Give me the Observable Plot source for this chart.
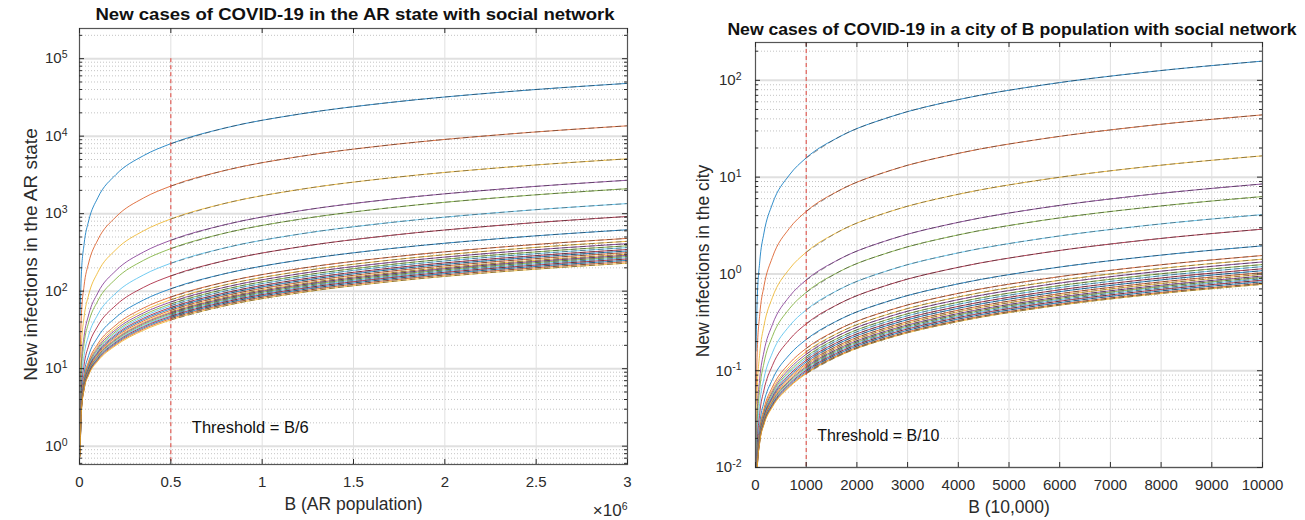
<!DOCTYPE html>
<html><head><meta charset="utf-8">
<script src="https://cdn.jsdelivr.net/npm/d3@7"></script>
<script src="https://cdn.jsdelivr.net/npm/@observablehq/plot@0.6"></script>
<style>
body{margin:0;background:#fff;font-family:"Liberation Sans",Arial,sans-serif;}
#wrap{position:relative;width:1305px;height:520px;overflow:hidden;background:#fff}
.title{position:absolute;font-weight:bold;font-size:16px;color:#111;white-space:nowrap}
.panel{position:absolute;top:0}
</style></head><body>
<div id="wrap">
 <div id="left" class="panel" style="left:0"></div>
 <div id="right" class="panel" style="left:660px"></div>
 <div class="title" style="left:355px;top:15px;transform:translate(-50%,-50%) scaleX(1.16)">New cases of COVID-19 in the AR state with social network</div>
 <div class="title" style="left:1012px;top:30px;transform:translate(-50%,-50%) scaleX(1.1)">New cases of COVID-19 in a city of B population with social network</div>
</div>
<script>
// ---------- data ----------
const leftB = [3e3, 1e4, 2.5e4, 5e4, 1e5, 2e5, 3.5e5, 5e5, 8e5, 1.2e6, 1.7e6, 2.3e6, 3e6];
const leftCurves = [
  [48.5, 162, 404, 805, 1600, 3200, 5600, 8000, 12800, 19200, 27200, 36800, 48000],
  [14.1, 47.3, 117, 231, 458, 911, 1591, 2271, 3630, 5443, 7709, 10428, 13600],
  [5.6, 19.0, 46.0, 89.4, 174.8, 344.7, 599.4, 854.2, 1363.7, 2043, 2892, 3911, 5100],
  [3.2, 11.0, 26.0, 49.4, 94.8, 184.7, 319.4, 454.2, 723.7, 1083, 1532, 2071, 2700],
  [2.6, 9.0, 21.0, 39.4, 74.8, 144.7, 249.4, 354.2, 563.7, 843, 1192, 1611, 2100],
  [1.85, 6.5, 14.7, 26.9, 49.8, 94.7, 161.9, 229.2, 363.7, 543, 767, 1036, 1350],
  [1.4, 5.05, 11.1, 19.75, 35.5, 66, 111.75, 157.5, 249, 371, 523.5, 706.5, 920],
  [1.1, 4.05, 8.6, 14.75, 25.5, 46, 76.75, 107.5, 169, 251, 353.5, 476.5, 620],
  [0.98, 3.58, 7.46, 12.42, 20.83, 36.67, 60.42, 84.17, 131.67, 195, 274.17, 369.17, 480],
  [0.94, 3.45, 7.13, 11.75, 19.5, 34, 55.75, 77.5, 121, 179, 251.5, 338.5, 440],
  [0.91, 3.35, 6.88, 11.25, 18.5, 32, 52.25, 72.5, 113, 167, 234.5, 315.5, 410],
  [0.88, 3.27, 6.67, 10.83, 17.67, 30.33, 49.33, 68.33, 106.33, 157, 220.33, 296.33, 385],
  [0.86, 3.2, 6.5, 10.5, 17, 29, 47, 65, 101, 149, 209, 281, 365],
  [0.84, 3.13, 6.33, 10.17, 16.33, 27.67, 44.67, 61.67, 95.67, 141, 197.67, 265.67, 345],
  [0.83, 3.08, 6.21, 9.92, 15.83, 26.67, 42.92, 59.17, 91.67, 135, 189.17, 254.17, 330],
  [0.81, 3.03, 6.08, 9.67, 15.33, 25.67, 41.17, 56.67, 87.67, 129, 180.67, 242.67, 315],
  [0.8, 2.98, 5.96, 9.42, 14.83, 24.67, 39.42, 54.17, 83.67, 123, 172.17, 231.17, 300],
  [0.79, 2.95, 5.88, 9.25, 14.5, 24, 38.25, 52.5, 81, 119, 166.5, 223.5, 290],
  [0.78, 2.92, 5.79, 9.08, 14.17, 23.33, 37.08, 50.83, 78.33, 115, 160.83, 215.83, 280],
  [0.77, 2.88, 5.71, 8.92, 13.83, 22.67, 35.92, 49.17, 75.67, 111, 155.17, 208.17, 270],
  [0.76, 2.85, 5.63, 8.75, 13.5, 22, 34.75, 47.5, 73, 107, 149.5, 200.5, 260],
  [0.75, 2.82, 5.54, 8.58, 13.17, 21.33, 33.58, 45.83, 70.33, 103, 143.83, 192.83, 250],
  [0.74, 2.78, 5.46, 8.42, 12.83, 20.67, 32.42, 44.17, 67.67, 99, 138.17, 185.17, 240],
  [0.73, 2.75, 5.38, 8.25, 12.5, 20, 31.25, 42.5, 65, 95, 132.5, 177.5, 230]
];
const rightB = [10, 33, 83, 167, 333, 667, 1000, 1667, 2667, 4000, 5667, 7667, 10000];
const rightCurves = [
  [0.16, 0.53, 1.33, 2.65, 5.28, 10.5, 15.8, 26.3, 42.1, 63.2, 89.5, 121, 158],
  [0.0457, 0.153, 0.378, 0.748, 1.48, 2.95, 4.42, 7.35, 11.75, 17.6, 24.9, 33.7, 44],
  [0.0183, 0.062, 0.15, 0.2915, 0.569, 1.122, 1.675, 2.781, 4.439, 6.65, 9.414, 12.73, 16.6],
  [0.0102, 0.035, 0.0824, 0.157, 0.299, 0.582, 0.865, 1.43, 2.28, 3.41, 4.82, 6.52, 8.5],
  [0.008, 0.0277, 0.0641, 0.12, 0.226, 0.436, 0.645, 1.064, 1.69, 2.53, 3.58, 4.83, 6.3],
  [0.0058, 0.0204, 0.0458, 0.0831, 0.153, 0.289, 0.425, 0.697, 1.106, 1.65, 2.33, 3.15, 4.1],
  [0.0046, 0.0164, 0.0358, 0.0631, 0.113, 0.209, 0.305, 0.497, 0.786, 1.17, 1.65, 2.23, 2.9],
  [0.0037, 0.0132, 0.0279, 0.0473, 0.0811, 0.146, 0.21, 0.339, 0.532, 0.79, 1.112, 1.5, 1.95],
  [0.0033, 0.0119, 0.0245, 0.0406, 0.0678, 0.1189, 0.17, 0.2722, 0.4255, 0.63, 0.8855, 1.1922, 1.55],
  [0.0031, 0.0114, 0.0234, 0.0385, 0.0634, 0.1103, 0.157, 0.2506, 0.3909, 0.578, 0.8119, 1.0926, 1.42],
  [0.003, 0.0111, 0.0227, 0.037, 0.0604, 0.1043, 0.148, 0.2356, 0.3669, 0.542, 0.7609, 1.0236, 1.33],
  [0.003, 0.0109, 0.022, 0.0356, 0.0578, 0.0989, 0.14, 0.2222, 0.3455, 0.51, 0.7155, 0.9622, 1.25],
  [0.0029, 0.0107, 0.0215, 0.0346, 0.0558, 0.0949, 0.134, 0.2122, 0.3295, 0.486, 0.6815, 0.9162, 1.19],
  [0.0028, 0.0105, 0.021, 0.0336, 0.0538, 0.0909, 0.128, 0.2022, 0.3135, 0.462, 0.6475, 0.8702, 1.13],
  [0.0028, 0.0103, 0.0206, 0.0328, 0.0521, 0.0876, 0.123, 0.1939, 0.3002, 0.442, 0.6192, 0.8319, 1.08],
  [0.0027, 0.0101, 0.0202, 0.032, 0.0504, 0.0843, 0.118, 0.1856, 0.2869, 0.422, 0.5909, 0.7936, 1.03],
  [0.0027, 0.01, 0.0199, 0.0313, 0.0491, 0.0816, 0.114, 0.1789, 0.2762, 0.406, 0.5682, 0.7629, 0.99],
  [0.0027, 0.0099, 0.0195, 0.0306, 0.0478, 0.0789, 0.11, 0.1722, 0.2655, 0.39, 0.5455, 0.7322, 0.95],
  [0.0026, 0.0098, 0.0193, 0.0301, 0.0468, 0.0769, 0.107, 0.1672, 0.2575, 0.378, 0.5285, 0.7092, 0.92],
  [0.0026, 0.0097, 0.019, 0.0296, 0.0458, 0.0749, 0.104, 0.1622, 0.2495, 0.366, 0.5115, 0.6862, 0.89],
  [0.0026, 0.0096, 0.0188, 0.0291, 0.0448, 0.0729, 0.101, 0.1572, 0.2415, 0.354, 0.4945, 0.6632, 0.86],
  [0.0025, 0.0095, 0.0185, 0.0286, 0.0438, 0.0709, 0.098, 0.1522, 0.2335, 0.342, 0.4775, 0.6402, 0.83],
  [0.0025, 0.0094, 0.0183, 0.0281, 0.0428, 0.0689, 0.095, 0.1472, 0.2255, 0.33, 0.4605, 0.6172, 0.8],
  [0.0025, 0.0093, 0.0181, 0.0278, 0.0421, 0.0676, 0.093, 0.1439, 0.2202, 0.322, 0.4492, 0.6019, 0.78]
];
const leftXTicks = [0, 0.5e6, 1e6, 1.5e6, 2e6, 2.5e6, 3e6];
const leftXTickLabels = ["0", "0.5", "1", "1.5", "2", "2.5", "3"];
const rightXTicks = [0, 1000, 2000, 3000, 4000, 5000, 6000, 7000, 8000, 9000, 10000];
const rightXTickLabels = ["0", "1000", "2000", "3000", "4000", "5000", "6000", "7000", "8000", "9000", "10000"];
const leftYTicks = [1, 10, 100, 1e3, 1e4, 1e5];
const leftYTickLabels = ["10^0", "10^1", "10^2", "10^3", "10^4", "10^5"];
const rightYTicks = [0.01, 0.1, 1, 10, 100];
const rightYTickLabels = ["10^-2", "10^-1", "10^0", "10^1", "10^2"];
const leftThreshold = 5e5, leftThresholdLabel = "Threshold = B/6";
const rightThreshold = 1000, rightThresholdLabel = "Threshold = B/10";
const matlabColors = ["#0072BD", "#D95319", "#EDB120", "#7E2F8E", "#77AC30", "#4DBEEE", "#A2142F"];

function minorTicks(lo, hi) {
  const out = [];
  for (let e = Math.floor(Math.log10(lo)); e <= Math.ceil(Math.log10(hi)); e++)
    for (let m = 2; m <= 9; m++) { const v = m * Math.pow(10, e); if (v >= lo && v <= hi) out.push(v); }
  return out;
}

// turn "10^5" strings into a base + raised exponent
function superscripts(svg, expSize) {
  svg.querySelectorAll("text").forEach(t => {
    const s = t.textContent;
    if (!s.includes("^") || t.querySelector("tspan")) return;
    const [base, exp] = s.split("^");
    t.textContent = base;
    const ts = document.createElementNS("http://www.w3.org/2000/svg", "tspan");
    ts.setAttribute("dy", "-0.5em");
    ts.setAttribute("font-size", expSize);
    ts.textContent = exp;
    t.appendChild(ts);
  });
  return svg;
}

function panel(o) {
  const rows = o.curves.flatMap((ys, i) => ys.map((y, j) => ({B: o.B[j], y, s: i})));
  const dashRows = rows.filter(d => d.B >= o.threshold);
  const fw = o.width - o.ml - o.mr, fh = o.height - o.mt - o.mb;
  const xl = new Map(o.xTicks.map((t, i) => [t, o.xTickLabels[i]]));
  const yl = new Map(o.yTicks.map((t, i) => [t, o.yTickLabels[i]]));
  const ymin = minorTicks(o.yDomain[0], o.yDomain[1]);
  const ink = "#2b2b2b";
  const svg = Plot.plot({
    width: o.width, height: o.height,
    marginLeft: o.ml, marginRight: o.mr, marginTop: o.mt, marginBottom: o.mb,
    style: {fontFamily: "'Liberation Sans', Arial, sans-serif", background: "#fff"},
    x: {domain: o.xDomain, axis: null},
    y: {type: "log", domain: o.yDomain, axis: null},
    marks: [
      Plot.gridY(ymin, {y: d => d, stroke: "#8a8a8a", strokeOpacity: 0.5, strokeDasharray: "1,2"}),
      Plot.gridY(o.yTicks, {y: d => d, stroke: "#e0e0e0", strokeOpacity: 1, strokeWidth: 2}),
      Plot.gridX(o.xTicks, {x: d => d, stroke: "#e0e0e0", strokeOpacity: 1}),
      Plot.line(rows, {x: "B", y: "y", z: "s", stroke: d => matlabColors[d.s % 7], strokeWidth: 1, strokeOpacity: 0.8, curve: "monotone-x", clip: true}),
      Plot.line(dashRows, {x: "B", y: "y", z: "s", stroke: "#1a1a1a", strokeWidth: 1, strokeOpacity: 0.45, strokeDasharray: "5,4", curve: "monotone-x", clip: true}),
      Plot.ruleX([o.threshold], {x: d => d, y1: o.ruleTop, y2: o.yDomain[0], stroke: "#e0443c", strokeWidth: 1, strokeDasharray: "4,3"}),
      Plot.text([o.thresholdLabel], {x: o.threshold, frameAnchor: "bottom", text: d => d, textAnchor: "start", dx: o.thrDx, dy: o.thrDy, fontSize: o.thrSize, fill: "#111"}),
      Plot.frame({stroke: "#555", strokeWidth: 1.2}),
      Plot.tickX(o.xTicks, {x: d => d, insetTop: fh - 5, stroke: ink}),
      Plot.tickX(o.xTicks, {x: d => d, insetBottom: fh - 5, stroke: ink}),
      Plot.tickY(o.yTicks, {y: d => d, insetRight: fw - 5, stroke: ink}),
      Plot.tickY(o.yTicks, {y: d => d, insetLeft: fw - 5, stroke: ink}),
      Plot.tickY(ymin, {y: d => d, insetRight: fw - 3, stroke: ink}),
      Plot.tickY(ymin, {y: d => d, insetLeft: fw - 3, stroke: ink}),
      Plot.axisX(o.xTicks, {tickFormat: d => xl.get(d), label: null, tickSize: 0, tickPadding: 12, fontSize: 15, fill: ink}),
      Plot.axisY(o.yTicks, {tickFormat: d => yl.get(d), label: null, tickSize: 0, tickPadding: o.yPad, fontSize: 15, fill: ink}),
      Plot.text([o.xLabel], {frameAnchor: "bottom", text: d => d, textAnchor: "middle", dy: 45, fontSize: 17.5, fill: ink}),
      Plot.text([o.yLabel], {frameAnchor: "left", text: d => d, textAnchor: "middle", rotate: -90, dx: o.yLabelDx, dy: o.yLabelDy, fontSize: o.yLabelSize, fill: ink}),
      ...(o.extra || [])
    ]
  });
  return superscripts(svg, 10.5);
}

document.getElementById("left").appendChild(panel({
  B: leftB, curves: leftCurves, xDomain: [0, 3e6], yDomain: [0.58, 2.45e5],
  xTicks: leftXTicks, xTickLabels: leftXTickLabels, yTicks: leftYTicks, yTickLabels: leftYTickLabels,
  threshold: leftThreshold, thresholdLabel: leftThresholdLabel, ruleTop: 1e5, thrDx: 21, thrDy: -32, thrSize: 16.5,
  xLabel: "B (AR population)", yLabel: "New infections in the AR state", yLabelDx: -49, yLabelDy: 8, yLabelSize: 19, yPad: 12,
  width: 660, height: 520, ml: 79, mr: 33, mt: 28, mb: 56,
  extra: [Plot.text(["\u00D710^6"], {frameAnchor: "bottom-right", text: d => d, textAnchor: "end", dy: 51, fontSize: 17, fill: "#2b2b2b"})]
}));

document.getElementById("right").appendChild(panel({
  B: rightB, curves: rightCurves, xDomain: [0, 10000], yDomain: [0.01, 246],
  xTicks: rightXTicks, xTickLabels: rightXTickLabels, yTicks: rightYTicks, yTickLabels: rightYTickLabels,
  threshold: rightThreshold, thresholdLabel: rightThresholdLabel, ruleTop: 246, thrDx: 11, thrDy: -27, thrSize: 16,
  xLabel: "B (10,000)", yLabel: "New infections in the city", yLabelDx: -52, yLabelDy: 6, yLabelSize: 17.5, yPad: 14,
  width: 645, height: 520, ml: 95, mr: 43, mt: 42, mb: 53
}));
</script>
</body></html>
